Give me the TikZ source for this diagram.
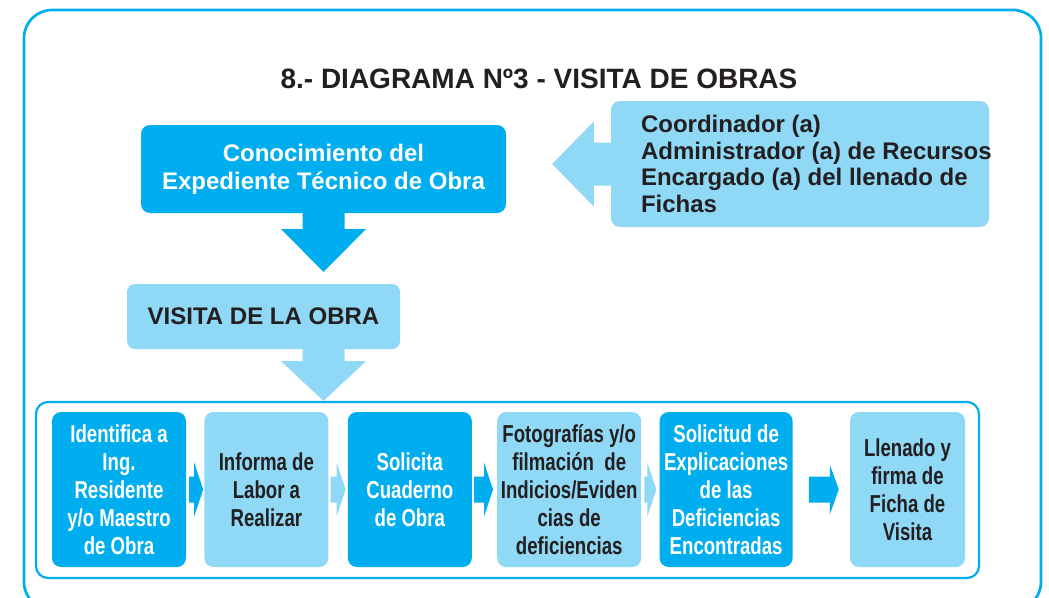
\documentclass[tikz,border=0pt]{standalone}
\usepackage{fontspec}
\setmainfont{Liberation Sans}
\newfontfamily\narrowfont{Liberation Sans}[FakeStretch=0.76]
\usetikzlibrary{positioning,calc}
\definecolor{cyan}{RGB}{0,174,239}
\definecolor{lightcyan}{RGB}{143,216,246}
\definecolor{ink}{RGB}{35,31,32}

\begin{document}
\begin{tikzpicture}[x=1pt, y=-1pt, inner sep=2pt, font=\bfseries\fontsize{24}{28}\selectfont,
dbox/.style={fill=cyan, text=white, rounded corners=9pt, align=center},
lbox/.style={fill=lightcyan, text=ink, rounded corners=9pt, align=center},
stepd/.style={dbox, font=\narrowfont\bfseries\fontsize{24.5}{28}\selectfont, minimum height=155pt},
stepl/.style={lbox, font=\narrowfont\bfseries\fontsize{24.5}{28}\selectfont, minimum height=155pt}]
\useasboundingbox (0,0) rectangle (1049,597);
\draw[cyan, line width=2.7pt, rounded corners=28pt] (24,10) rectangle (1041,610);
\node[text=ink, anchor=base, font=\bfseries\fontsize{28}{32}\selectfont] (title) at (539,88) {8.- DIAGRAMA Nº3 - VISITA DE OBRAS};
\node[dbox, minimum width=365pt, minimum height=88pt] (know) at (323.5,169) {Conocimiento del\\Expediente Técnico de Obra};
\node[lbox, minimum width=378pt, minimum height=126pt] (who) at (800,164) {};
\node[text=ink, align=left, anchor=west, inner sep=0pt, font=\bfseries\fontsize{24}{26.7}\selectfont] (whotext) at ([xshift=30pt]who.west) {Coordinador (a)\\Administrador (a) de Recursos\\Encargado (a) del llenado de\\Fichas};
\node[lbox, rounded corners=8pt, minimum width=273pt, minimum height=65pt] (visit) at (263.5,316.5) {VISITA DE LA OBRA};
\node[draw=cyan, line width=2.2pt, rounded corners=12pt, minimum width=943pt, minimum height=176pt] (row) at (507.5,490) {};
% pasos de la visita
\node[stepd, minimum width=134pt] (b1) at (119,489.5) {Identifica a\\Ing.\\Residente\\y/o Maestro\\de Obra};
\node[stepl, minimum width=124pt, right=18pt of b1] (b2) {Informa de\\Labor a\\Realizar};
\node[stepd, minimum width=124pt, right=19pt of b2] (b3) {Solicita\\Cuaderno\\de Obra};
\node[stepl, minimum width=144pt, right=25pt of b3] (b4) {Fotografías y/o\\filmación\ \ de\\Indicios/Eviden\\cias de\\deficiencias};
\node[stepd, minimum width=133pt, right=18pt of b4] (b5) {Solicitud de\\Explicaciones\\de las\\Deficiencias\\Encontradas};
\node[stepl, minimum width=115pt, right=57pt of b5] (b6) {Llenado y\\firma de\\Ficha de\\Visita};
% flechas grandes
\fill[cyan] ($(know.south)+(-21,-1)$) -- ++(0,17) -- ++(-21.5,0) -- ($(visit.north -| know.south)+(0,-12)$) -- ($(know.south)+(42.5,16)$) -- ++(-21.5,0) -- ++(0,-17) -- cycle;
\fill[lightcyan] ($(visit.south -| know.south)+(-21,-1)$) -- ++(0,13) -- ++(-21.5,0) -- (row.north -| know.south) -- ($(visit.south -| know.south)+(42.5,12)$) -- ++(-21.5,0) -- ++(0,-13) -- cycle;
\fill[lightcyan] ($(who.west)+(1,-21.5)$) -- ++(-18,0) -- ++(0,-21) -- ($(know.east)+(46,-5)$) -- ($(who.west)+(-17,42.5)$) -- ++(0,-21) -- ++(18,0) -- cycle;
% flechas entre pasos
\fill[cyan] ($(b1.east)+(3,-13)$) -- ($(b2.west)+(-10,-13)$) -- ($(b2.west)+(-10,-27)$) -- ($(b2.west)+(-1,0)$) -- ($(b2.west)+(-10,27)$) -- ($(b2.west)+(-10,13)$) -- ($(b1.east)+(3,13)$) -- cycle;
\fill[lightcyan] ($(b2.east)+(2,-13)$) -- ($(b3.west)+(-11,-13)$) -- ($(b3.west)+(-11,-27)$) -- ($(b3.west)+(-2,0)$) -- ($(b3.west)+(-11,27)$) -- ($(b3.west)+(-11,13)$) -- ($(b2.east)+(2,13)$) -- cycle;
\fill[cyan] ($(b3.east)+(2,-13)$) -- ($(b4.west)+(-13,-13)$) -- ($(b4.west)+(-13,-27)$) -- ($(b4.west)+(-4,0)$) -- ($(b4.west)+(-13,27)$) -- ($(b4.west)+(-13,13)$) -- ($(b3.east)+(2,13)$) -- cycle;
\fill[lightcyan] ($(b4.east)+(3,-13)$) -- ($(b5.west)+(-12,-13)$) -- ($(b5.west)+(-12,-27)$) -- ($(b5.west)+(-3,0)$) -- ($(b5.west)+(-12,27)$) -- ($(b5.west)+(-12,13)$) -- ($(b4.east)+(3,13)$) -- cycle;
\fill[cyan] ($(b5.east)+(16,-13)$) -- ($(b6.west)+(-20,-13)$) -- ($(b6.west)+(-20,-25)$) -- ($(b6.west)+(-11,0)$) -- ($(b6.west)+(-20,25)$) -- ($(b6.west)+(-20,13)$) -- ($(b5.east)+(16,13)$) -- cycle;
\end{tikzpicture}
\end{document}
